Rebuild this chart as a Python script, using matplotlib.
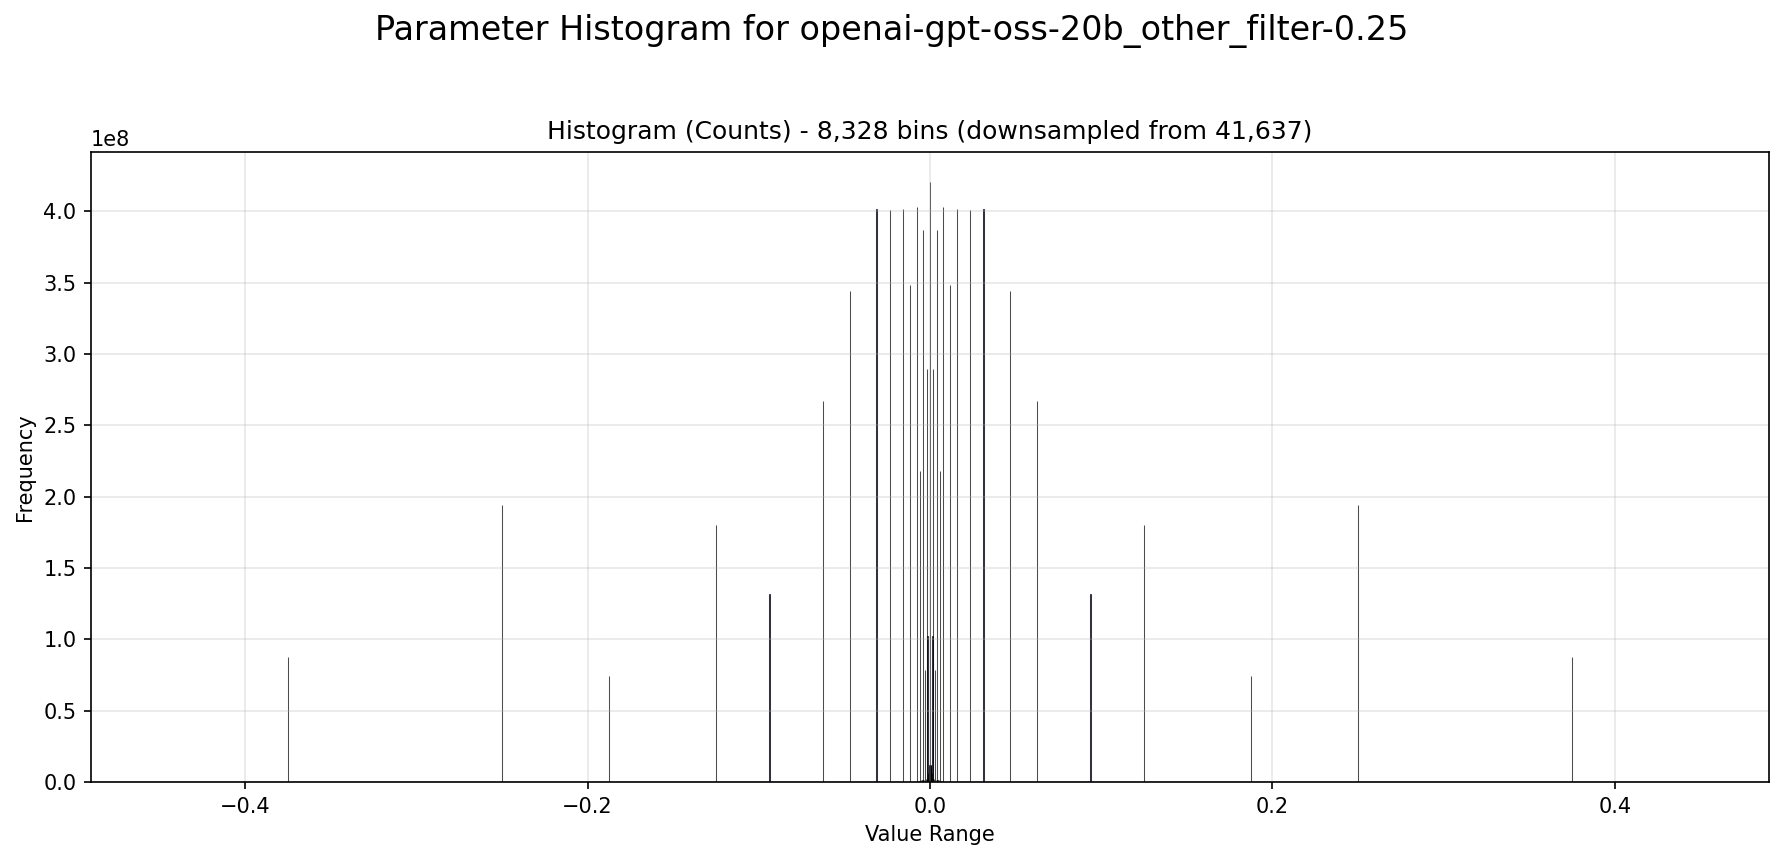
import numpy as np
import matplotlib
matplotlib.use("Agg")
import matplotlib.pyplot as plt

# histogram spikes (value, count in units of 1e8)
spike_values = [-0.375, -0.25, -0.1875, -0.125, -0.09375, -0.0625, -0.046875,
                -0.03125, -0.0234375, -0.015625, -0.01171875, -0.0078125,
                -0.005859375, -0.00390625, -0.0029296875, -0.001953125,
                -0.00146484375, 0.0,
                0.00146484375, 0.001953125, 0.0029296875, 0.00390625,
                0.005859375, 0.0078125, 0.01171875, 0.015625, 0.0234375,
                0.03125, 0.046875, 0.0625, 0.09375, 0.125, 0.1875, 0.25, 0.375]
spike_counts = [0.878, 1.940, 0.742, 1.804, 1.315, 2.671, 3.440,
                4.020, 4.008, 4.020, 3.483, 4.029,
                2.181, 3.870, 0.782, 2.893,
                1.024, 4.206,
                1.024, 2.898, 0.782, 3.870,
                2.181, 4.029, 3.483, 4.020, 4.008,
                4.020, 3.440, 2.671, 1.317, 1.804, 0.742, 1.940, 0.878]
# how many neighbouring bins a spike's count falls into
spike_bins = [1, 1, 1, 1, 8, 1, 1,
              8, 1, 1, 1, 1,
              1, 1, 1, 1,
              1, 1,
              1, 1, 1, 1,
              1, 1, 1, 1, 1,
              8, 1, 1, 1, 1, 1, 1, 1]

# small cluster right around zero
core_values = [-0.000977, -0.000732, -0.000488, -0.000366, -0.000244, -0.000122,
               0.000122, 0.000244, 0.000366, 0.000488, 0.000732, 0.000977]
core_counts = [0.06, 0.09, 0.11, 0.11, 0.12, 0.12,
               0.12, 0.12, 0.11, 0.11, 0.09, 0.06]

# faint tail along the baseline
tail_values = [-0.0078, -0.0069, -0.0061, -0.0052, -0.0044, -0.0034, -0.0025,
               -0.0017, -0.0011, 0.0011, 0.0017, 0.0025, 0.0034, 0.0044,
               0.0052, 0.0061, 0.0069, 0.0078]
tail_counts = [0.006, 0.008, 0.010, 0.012, 0.014, 0.016, 0.018,
               0.020, 0.022, 0.022, 0.020, 0.018, 0.016, 0.014,
               0.012, 0.010, 0.008, 0.006]

n_bins = 8328
n_bins_orig = 41637
value_min, value_max = -0.4667, 0.4667
model_name = "openai-gpt-oss-20b_other_filter-0.25"

bin_width = (value_max - value_min) / n_bins

values = np.array(spike_values + core_values + tail_values)
# put every count in the centre of the bin it falls into
bin_idx = np.floor((values - value_min) / bin_width)
centers = value_min + (bin_idx + 0.5) * bin_width
counts = np.array(spike_counts + core_counts + tail_counts) * 1e8
widths = np.array(spike_bins + [1] * (len(core_values) + len(tail_values))) * bin_width

fig = plt.figure(figsize=(1784 / 150, 860 / 150), dpi=150)
ax = fig.add_axes([91 / 1784, 78 / 860, (1769 - 91) / 1784, (782 - 152) / 860])

ax.bar(centers, counts, width=widths, color="midnightblue", edgecolor="black",
       linewidth=0.5, alpha=0.7)

ax.set_xlim(-0.49, 0.49)
ax.set_xlabel("Value Range")
ax.set_ylabel("Frequency")
ax.set_title(f"Histogram (Counts) - {n_bins:,} bins (downsampled from {n_bins_orig:,})",
             fontsize=12)
ax.grid(True, alpha=0.3)
fig.suptitle(f"Parameter Histogram for {model_name}", fontsize=16,
             y=1 - 31 / 860, va="center")

fig.savefig("out.png", dpi=150)
